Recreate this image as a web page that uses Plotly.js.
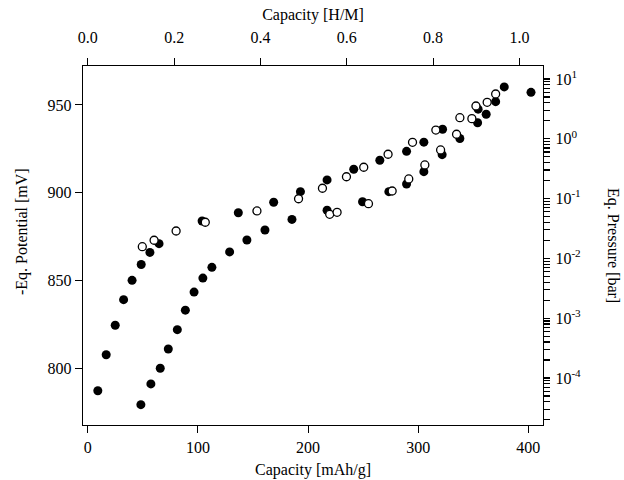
<!DOCTYPE html>
<html>
<head>
<meta charset="utf-8">
<script src="https://cdn.plot.ly/plotly-3.0.1.min.js"></script>
<style>html,body{margin:0;padding:0;background:#fff;}#chart{width:624px;height:480px;}</style>
</head>
<body>
<div id="chart"></div>
<script>
// Filled circles: capacity [mAh/g] vs -Eq. potential [mV]
var capFilled = [9.1, 16.7, 24.9, 32.5, 40.2, 48.5, 56.4, 64.7, 103.8, 136.7, 168.8, 193.1, 217.3, 241.5, 265.2, 289.5, 305.2, 322.2, 354.5, 370.4, 378.2, 402.5,
                 48.2, 57.3, 65.8, 73.1, 81.3, 88.6, 96.5, 104.5, 112.7, 128.8, 144.5, 160.9, 185.4, 217.3, 249.5, 273.4, 289.5, 305.2, 321.8, 337.9, 354.0, 361.8];
var potFilled = [787.2, 807.7, 824.5, 839.1, 850.1, 859.1, 866.0, 871.0, 883.9, 888.6, 894.6, 900.6, 907.3, 913.4, 918.5, 923.6, 928.8, 936.2, 947.6, 951.9, 960.3, 957.2,
                 779.3, 791.1, 800.0, 811.0, 822.0, 833.1, 843.4, 851.4, 857.5, 866.3, 873.1, 878.8, 884.8, 890.0, 894.9, 900.6, 905.0, 912.0, 921.7, 930.9, 939.9, 944.7];
// Open circles: capacity [mAh/g] vs Eq. pressure [bar]
var capOpen = [49.5, 60.2, 80.2, 106.7, 153.6, 191.4, 213.1, 234.9, 250.6, 272.7, 294.9, 316.1, 337.9, 352.5, 362.7, 370.4,
               219.7, 226.4, 254.9, 276.4, 291.5, 306.1, 320.4, 334.9, 348.8];
var presOpen = [0.0157, 0.0201, 0.0287, 0.0402, 0.0621, 0.0993, 0.149, 0.232, 0.334, 0.551, 0.874, 1.40, 2.25, 3.53, 4.07, 5.61,
                0.0546, 0.0590, 0.0822, 0.134, 0.213, 0.365, 0.650, 1.19, 2.17];
// conversion mAh/g per H/M (top axis)
var mAhPerHM = 392;
var capTickVals = [0, 100, 200, 300, 400];
var potTickVals = [800, 850, 900, 950];
var hmTickVals = [0, 0.2, 0.4, 0.6, 0.8, 1.0];
var hmTickText = ['0.0', '0.2', '0.4', '0.6', '0.8', '1.0'];
var presTickExp = [-4, -3, -2, -1, 0, 1];
var presTickText = ['10<sup>-4</sup>', '10<sup>-3</sup>', '10<sup>-2</sup>', '10<sup>-1</sup>', '10<sup>0</sup>', '10<sup>1</sup>'];

var FONT = 'Liberation Serif, Times New Roman, serif';
var xMin = -4.36, xMax = 413.4;
var presRange = [-4.786, 1.217];
var capOpenHM = capOpen.map(function(v){return v / mAhPerHM;});

// right pressure axis: labelled decades plus unlabelled 2..9 log ticks
var presAllVals = [], presAllText = [];
for (var e = -5; e <= 1; e++) {
  for (var k = 1; k <= 9; k++) {
    var lv = e + Math.log(k) / Math.LN10;
    if (lv < presRange[0] || lv > presRange[1]) continue;
    presAllVals.push(k * Math.pow(10, e));
    var j = presTickExp.indexOf(e);
    presAllText.push(k === 1 && j >= 0 ? presTickText[j] : '');
  }
}

var traces = [
  {x: capFilled, y: potFilled, type: 'scatter', mode: 'markers', xaxis: 'x', yaxis: 'y',
   marker: {symbol: 'circle', size: 9, color: '#000', line: {width: 0}}, showlegend: false, hoverinfo: 'x+y'},
  {x: capOpenHM, y: presOpen, type: 'scatter', mode: 'markers', xaxis: 'x2', yaxis: 'y2',
   marker: {symbol: 'circle', size: 8, color: '#fff', line: {width: 1.3, color: '#000'}}, showlegend: false, hoverinfo: 'x+y'}
];

var axCommon = {showgrid: false, zeroline: false, showline: true, linecolor: '#000', linewidth: 1.2,
  ticks: 'outside', ticklen: 7, tickwidth: 1, tickcolor: '#000', tickfont: {family: FONT, size: 16, color: '#000'}};

var layout = {
  width: 624, height: 480,
  margin: {l: 83, r: 81, t: 66, b: 55, pad: 0},
  paper_bgcolor: '#fff', plot_bgcolor: '#fff',
  font: {family: FONT, size: 16, color: '#000'},
  showlegend: false,
  xaxis: Object.assign({}, axCommon, {range: [xMin, xMax], tickmode: 'array', tickvals: capTickVals, anchor: 'y',
    ticklabelstandoff: 1,
    title: {text: 'Capacity [mAh/g]', font: {family: FONT, size: 16}, standoff: 8}}),
  xaxis2: Object.assign({}, axCommon, {range: [xMin / mAhPerHM, xMax / mAhPerHM], overlaying: 'x', side: 'top', anchor: 'y2',
    tickmode: 'array', tickvals: hmTickVals, ticktext: hmTickText, ticklabelstandoff: 8,
    title: {text: 'Capacity [H/M]', font: {family: FONT, size: 16}, standoff: 4}}),
  yaxis: Object.assign({}, axCommon, {range: [767.7, 972.2], tickmode: 'array', tickvals: potTickVals, anchor: 'x'}),
  yaxis2: Object.assign({}, axCommon, {type: 'log', range: presRange, overlaying: 'y', side: 'right', anchor: 'x2',
    tickmode: 'array', tickvals: presAllVals, ticktext: presAllText, ticklen: 6, tickwidth: 1.2, ticklabelstandoff: 2}),
  annotations: [
    {text: '-Eq. Potential [mV]', xref: 'paper', yref: 'paper', x: -0.1326, y: 0.5376, xanchor: 'center', yanchor: 'middle',
     textangle: -90, showarrow: false, font: {family: FONT, size: 16, color: '#000'}},
    {text: 'Eq. Pressure [bar]', xref: 'paper', yref: 'paper', x: 1.152, y: 0.4986, xanchor: 'center', yanchor: 'middle',
     textangle: 90, showarrow: false, font: {family: FONT, size: 16, color: '#000'}}
  ]
};

Plotly.newPlot('chart', traces, layout, {staticPlot: true, displayModeBar: false});
</script>
</body>
</html>
